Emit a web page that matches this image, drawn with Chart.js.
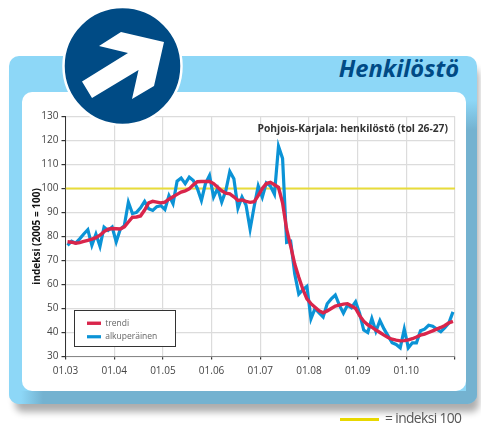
<!DOCTYPE html>
<html lang="fi">
<head>
<meta charset="utf-8">
<title>Henkilöstö</title>
<script src="https://cdn.jsdelivr.net/npm/chart.js@4/dist/chart.umd.min.js"></script>
<style>
html,body{margin:0;padding:0;background:#fff;overflow:hidden}
#stage{position:relative;width:481px;height:423px;overflow:hidden;font-family:"Open Sans",sans-serif}
#stage>*{position:absolute}
#panel{left:9px;top:56px;width:468px;height:348px;border-radius:10px;background:#8dd7f7;box-shadow:4px 10px 7px -2px rgba(0,0,0,.32);overflow:hidden}
#rstrip{left:457px;top:36px;width:11px;height:312px;background:linear-gradient(to bottom,#8dd7f7 8px,#74b2d0 38px)}
#bstrip{left:0;top:335px;width:468px;height:13px;background:linear-gradient(to right,#8dd7f7 12px,#74b2d0 34px)}
#card{left:22px;top:92px;width:444px;height:299px;border-radius:10px;background:#fff}
#head{right:22px;top:53px;font-size:23.7px;line-height:30px;font-weight:700;font-style:italic;color:#004a85}
canvas{left:0;top:0}
#sign{left:0;top:0}
#key{left:340px;top:418px;width:39px;height:3px;background:#e8d800}
#keytext{left:385px;top:409px;font-size:13.8px;line-height:18px;color:#555;letter-spacing:-.6px;white-space:nowrap}
</style>
</head>
<body>
<div id="stage">
  <div id="panel"><div id="rstrip" style="position:absolute"></div><div id="bstrip" style="position:absolute"></div></div>
  <div id="card"></div>
  <div id="head">Henkilöstö</div>
  <canvas id="c" width="481" height="423"></canvas>
  <svg id="sign" width="481" height="130" viewBox="0 0 481 130">
    <circle cx="122.5" cy="66" r="59" fill="#004b85" stroke="#fff" stroke-width="2.5"/>
    <polygon fill="#fff" points="121,32 164,42 154,86 132,99 138.5,70 92,98 82,81.5 128,53 99,46"/>
  </svg>
  <div id="key"></div>
  <div id="keytext">= indeksi 100</div>
</div>
<script>
const xTickLabels = ['01.03','01.04','01.05','01.06','01.07','01.08','01.09','01.10',''];
const yTickMin = 30, yTickMax = 130;
const indexLevel = [100, 100];
const indexAt = [0, 96];
const alkuperainen = [
 76.3,78,77.2,79,81,82.8,76.3,81,75.9,83.9,82.5,83.9,
 77.7,83,84.5,94.2,89.5,90,91.9,94.6,91.5,90.8,92.4,92.8,
 91.2,97,93.6,103,104.3,102,104.7,103.3,100,95,102,105.4,
 96.4,100,94.3,99,107,104,91.8,96.4,93,83,92.5,101,
 96.3,102.3,101,97.6,117.5,112.5,77.5,78,64.4,56,57.8,59.2,
 45.7,50,48.2,46.5,52,54,55.6,51.4,48,51.4,50.3,52.8,
 47.9,41,40,45.8,40.5,45,41.5,38.6,35.7,35,33.6,41.4,
 33.6,35.7,35.7,40.7,41.4,43,42.6,41.4,40.3,42,44,48.6
];
const trendi = [
 77.8,77.6,77.2,77.4,77.9,78.4,78.9,79.5,80.5,82,83,83.3,
 83.2,83.1,84,86,88,88.1,88.5,91,94,94.6,94.3,94,
 94.3,95.5,96.5,97.5,98.5,99,99.8,101.5,102.8,102.9,102.9,102.9,
 102,100.5,99,98,97.7,96.5,95,95.2,94.6,94.2,94.5,97,
 100,102,102.5,101.5,100.4,94,83,76,68.5,63,58,54,
 52,50.5,49,48.2,49,50,51,51.4,51.8,52,51,50,
 47,44.7,43.2,42.2,41,40,38.9,37.9,37.2,36.8,36.5,36.6,
 36.9,37.4,38.1,38.9,39.3,40,40.7,41.4,42.1,42.9,44,44.6
];
const chartTitle = 'Pohjois-Karjala: henkilöstö (tol 26-27)';
const yTitle = 'indeksi (2005 = 100)';

const monthly = v => v.map((y, i) => ({x: i + 0.5, y}));
const FONT = '"Open Sans", sans-serif';

const placeBoxes = {
  id: 'placeBoxes',
  afterUpdate(chart) {
    const l = chart.legend;
    l.left = 82; l.right = 176; l.top = 314; l.bottom = 346;
    const t = chart.titleBlock;
    t.left = 60; t.right = 448; t.top = 123; t.bottom = 137;
  },
  beforeDatasetsDraw(chart) {
    const c = chart.ctx;
    c.save();
    c.fillStyle = '#fff';
    c.strokeStyle = '#333';
    c.lineWidth = 1;
    c.fillRect(74.5, 310.5, 101, 36);
    c.strokeRect(74.5, 310.5, 101, 36);
    c.restore();
    chart.legend.draw(chart.chartArea);
  }
};

new Chart(document.getElementById('c'), {
  type: 'line',
  data: {
    datasets: [
      {label: 'trendi', data: monthly(trendi), borderColor: '#d9254b', borderWidth: 3.4, pointRadius: 0, tension: 0},
      {label: 'alkuperäinen', data: monthly(alkuperainen), borderColor: '#0b93d6', borderWidth: 3.2, pointRadius: 0, tension: 0},
      {label: 'indeksi 100', data: indexAt.map((x, i) => ({x, y: indexLevel[i]})), borderColor: '#e8dc3a', borderWidth: 2, pointRadius: 0}
    ]
  },
  plugins: [placeBoxes],
  options: {
    responsive: false,
    animation: false,
    layout: {padding: {top: 104, right: 26, left: 31, bottom: 0}},
    plugins: {
      tooltip: {enabled: false},
      title: {display: true, text: chartTitle, align: 'end', color: '#333', padding: 0, font: {family: FONT, size: 10.3, weight: '700'}},
      legend: {
        position: 'chartArea',
        align: 'start',
        labels: {
          filter: it => it.text !== 'indeksi 100',
          usePointStyle: true, pointStyle: 'line', pointStyleWidth: 14, boxHeight: 8,
          color: '#666', padding: 5, font: {family: FONT, size: 8.5}
        }
      }
    },
    scales: {
      x: {
        type: 'linear', min: 0, max: 96,
        afterFit(s) { s.height = 423 - 356.5; },
        ticks: {stepSize: 12, autoSkip: false, maxRotation: 0, color: '#444', padding: 6, font: {family: FONT, size: 10},
          callback: v => xTickLabels[v / 12]},
        grid: {color: '#dcdcdc', lineWidth: 1.2, tickLength: 3, tickColor: '#333'},
        border: {color: '#888', width: 1}
      },
      y: {
        min: yTickMin, max: yTickMax,
        afterFit(s) { s.width = 34.5; },
        ticks: {stepSize: 10, color: '#444', padding: 3, font: {family: FONT, size: 10}},
        grid: {color: '#dcdcdc', lineWidth: 1.2, tickLength: 4, tickColor: '#333'},
        border: {color: '#333', width: 1},
        title: {display: true, text: yTitle, color: '#111', padding: {top: 0, bottom: 0}, font: {family: FONT, size: 10, weight: '700'}}
      }
    }
  }
});
</script>
</body>
</html>
